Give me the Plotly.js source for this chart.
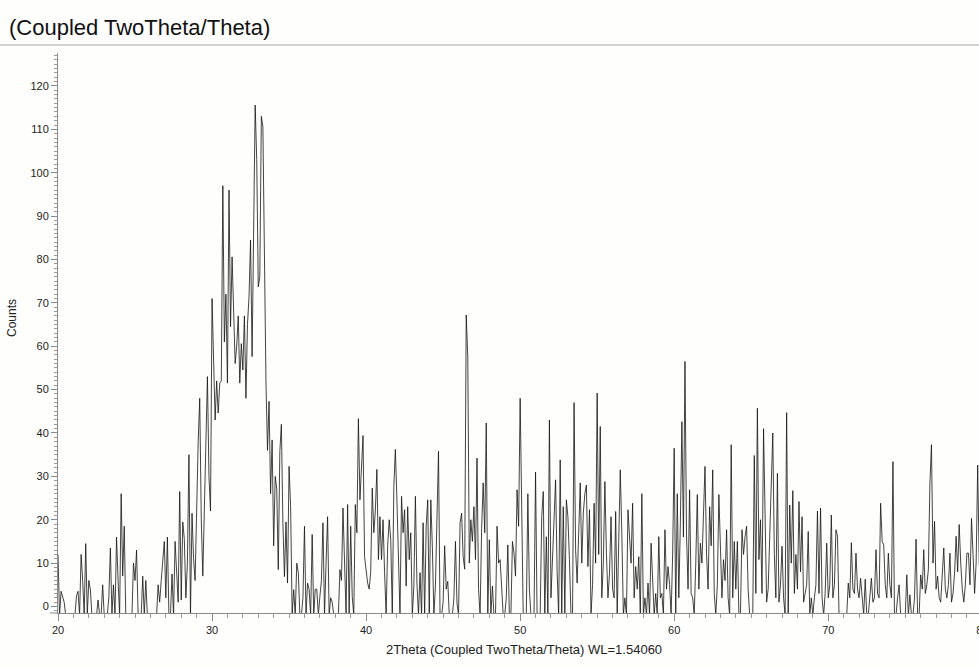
<!DOCTYPE html>
<html>
<head>
<meta charset="utf-8">
<script src="https://cdn.plot.ly/plotly-3.0.1.min.js"></script>
<style>
html,body{margin:0;padding:0;overflow:hidden;background:#fefefc;}
#chart{width:1000px;height:668px;}
</style>
</head>
<body>
<div id="chart"></div>
<script>
// XRD scan: 2Theta from 20.0 in steps of 0.1 degree
const startAngle = 20;
const stepAngle = 0.1;
// Counts (values below the axis floor shown as -2)
const counts = [
12,-2,3.5,2,1,-2,-2,-2,-2,-2,
-2,-2,2.5,3.5,-2,12,6,-2,14.5,-2,
6,4,-2,-2,-2,-2,1.5,-2,-2,5,
-2,-2,-2,2,13.5,-2,5,-2,16,6,
-2,26,7,18.5,-2,-2,-2,-2,-2,10,
6,13,-2,-2,-2,7,-2,6,-2,-2,
-2,-2,-2,-2,-2,5,1,6,11,15,
2,16,-2,-2,7.5,-2,15,8.5,1,26.5,
1.5,19.5,15.5,2,10,35,-2,21.5,11,6,
27,38,48,20,7,25,40,53,30,22,
71,54.5,43,52,44.6,51.5,52,97,61,72,
51.5,96,64.5,80.6,70.6,56,60,67,51.5,60.6,
54.5,67,48,65,71.4,84.5,57.6,90,115.6,103,
73.7,76,113,110.6,80,51.5,36,47.3,26,38.4,
14,30,27,8.5,35.7,42,19,6.9,19.5,5.4,
32.3,23,-2,3.9,-2,10,7.8,-2,-2,2,
18.5,-2,5.4,4,-2,16.6,-2,4,4,-2,
2.3,6,19.3,-2,10,20.7,-2,2,1,-2,
-2,-2,-2,8.5,6,22.7,10.8,-2,23.5,-2,
18.5,2.3,-2,23.5,17,43.3,24.6,32,39.4,11.5,
8.5,5.4,4,8,27.3,17,22,31.6,10.8,20.7,
10.8,20,7.8,-2,14,20,15.4,-2,27.7,36.2,
24.6,7.8,-2,25.4,17,22.3,4.7,23,10.8,17,
-2,4.7,25.4,5.4,-2,7.8,-2,19.3,-2,18.5,
24.6,-2,24.6,14,-2,4.7,20,35.8,-2,-2,
1,14,4,5.8,-2,-2,-2,2,15,0.8,
-2,19.3,21.5,11.5,8.6,67.2,57.6,10,20,15,
23,10.8,34.2,4,-2,18,28.5,17,42.3,-2,
15.4,-2,4.7,-2,-2,18.5,10,10.8,4.7,-2,
-2,2,14.2,-2,-2,15,12.3,7,26.9,18.5,
48,15,-2,-2,-2,26,4,-2,-2,-2,
31,-2,-2,-2,20.7,26.5,-2,16.1,-2,43,
2,10,18.5,29.2,8,-2,33.8,-2,23,-2,
24.6,20.7,10.8,-2,-2,47,13,5.4,17,28.5,
10,21.5,26,28,9.2,22.3,-2,5,23.8,10,
49.2,12,41.5,2,10,28.8,12.3,2,7.7,20.7,
4,2,21.9,-2,15,31.5,17,-2,2,-2,
22.3,17,10,23.8,2,9.2,4,11.5,-2,26,
-2,2,-2,5.4,-2,14.6,7.7,-2,3,-2,
16.1,2,3,-2,17.7,4,9.2,5,-2,12.3,
36.5,-2,26,2,19.3,42.6,16,56.5,16.6,4,
26.9,3,2,-2,10,25.8,4,14.6,10,23,
32.3,12,4,23,14,31.5,3,-2,5,25.8,
11.5,2,10.8,6,17.7,2,-2,37.3,2,15,
4,15,-2,-2,17.7,12,16.1,18.5,4,-2,
-2,-2,34.8,3,45.7,10.8,20,3,41,22,
1,4,16.2,25.4,40,12,2,30.7,1,5,
13.9,2,-2,44.7,-2,23.4,10,26.7,3,12,
4,24.2,8,20.7,1,3,5,17.3,-2,2,
-2,2,5,22,3,22.7,2,-2,3,14.6,
2,5,21.1,2,5,17.7,16.2,-2,-2,-2,
-2,-2,-2,5.4,2,14.7,4,3,12.3,4,
2,6.5,2,-2,6.3,-2,-2,2,6.5,1,
2,13.1,3,2,23.8,15,14.2,5,2,12.3,
5,2,33.4,-2,-2,2,5,-2,-2,-2,
-2,7.3,-2,2.7,-2,-2,2,15.5,-2,-2,
7.3,4,13.1,3,5,8.5,28.4,37.3,10,19.6,
4,7,2,1,9.2,13.5,4,2,5,12.3,
1,3,7.7,16.2,8,18.9,10,4,1,5,
12.3,12.3,5,20.3,12,3,10,32.6,10,5,
2
];
const xTickVals = [20,30,40,50,60,70,80];
const yTickVals = [0,10,20,30,40,50,60,70,80,90,100,110,120];

const twoTheta = counts.map((_, i) => +(startAngle + i * stepAngle).toFixed(2));

const W = 1000, H = 668;
const mL = 58, mR = 10, mT = 53, mB = 55;
const pw = W - mL - mR, ph = H - mT - mB;

const trace = {
  type: 'scatter',
  mode: 'lines',
  x: twoTheta,
  y: counts,
  line: {color: '#141414', width: 0.8},
  hoverinfo: 'skip'
};

const axisCommon = {
  ticks: 'outside',
  tickcolor: '#8a8a8a',
  tickwidth: 1,
  showline: true,
  linecolor: '#8a8a8a',
  linewidth: 1,
  showgrid: false,
  zeroline: false,
  tickfont: {size: 11, color: '#222'}
};

const layout = {
  width: W,
  height: H,
  margin: {l: mL, r: mR, t: mT, b: mB},
  paper_bgcolor: '#fefefc',
  plot_bgcolor: '#fefefc',
  showlegend: false,
  font: {family: '"Liberation Sans", Arial, sans-serif', color: '#222', size: 11},
  title: {
    text: '(Coupled TwoTheta/Theta)',
    xref: 'container', yref: 'container',
    x: 9 / W, y: 1 - 27 / H,
    xanchor: 'left', yanchor: 'middle',
    font: {size: 22, color: '#111'}
  },
  xaxis: Object.assign({}, axisCommon, {
    range: [20, 80.5],
    tickmode: 'array',
    tickvals: xTickVals,
    ticktext: xTickVals.map(String),
    ticklen: 7,
    minor: {dtick: 1, tick0: 20, ticks: 'outside', ticklen: 4, tickcolor: '#9a9a9a'},
    title: {text: '2Theta (Coupled TwoTheta/Theta) WL=1.54060', font: {size: 13, color: '#222'}, standoff: 9}
  }),
  yaxis: Object.assign({}, axisCommon, {
    range: [-1.5, 127.6],
    tickmode: 'array',
    tickvals: yTickVals,
    ticktext: yTickVals.map(String),
    ticklen: 6,
    minor: {dtick: 1, tick0: 0, ticks: 'outside', ticklen: 3, tickcolor: '#9a9a9a'}
  }),
  annotations: [{
    text: 'Counts',
    xref: 'paper', yref: 'paper',
    x: (12 - mL) / pw, y: (H - mB - 318) / ph,
    xanchor: 'center', yanchor: 'middle',
    textangle: -90,
    showarrow: false,
    font: {size: 12, color: '#222'}
  }],
  shapes: [{
    type: 'line',
    xref: 'paper', yref: 'paper',
    x0: -mL / pw, x1: (W - mL) / pw,
    y0: 1 + (mT - 45) / ph, y1: 1 + (mT - 45) / ph,
    line: {color: '#c4c4c4', width: 1.5}
  }, {
    type: 'line',
    xref: 'paper', yref: 'paper',
    x0: -8 / pw, x1: 0,
    y0: 0, y1: 0,
    line: {color: '#8a8a8a', width: 1}
  }]
};

Plotly.newPlot('chart', [trace], layout, {displayModeBar: false, staticPlot: true});
</script>
</body>
</html>
